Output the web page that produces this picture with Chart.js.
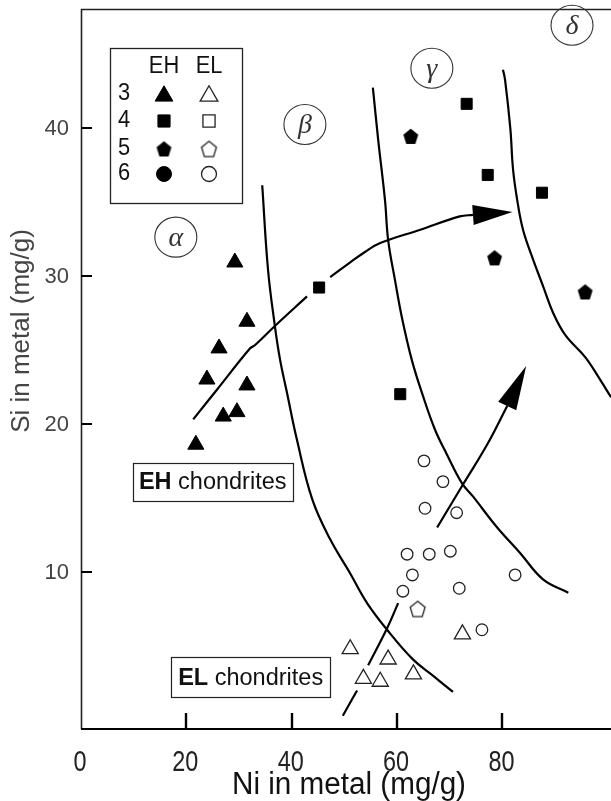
<!DOCTYPE html>
<html>
<head>
<meta charset="utf-8">
<title>Si vs Ni in metal of enstatite chondrites</title>
<script src="https://cdn.jsdelivr.net/npm/chart.js@4.4.1/dist/chart.umd.min.js"></script>
<style>
  html, body { margin: 0; padding: 0; background: #fff; overflow: hidden; }
  #wrap { width: 611px; height: 801px; }
</style>
</head>
<body>
<div id="wrap"><canvas id="chondrite-chart" width="611" height="801"></canvas></div>
<script>
// Ni (x) and Si (y) in metal, mg/g. EH = filled symbols, EL = open symbols.
const eh3 = [[21.8,18.6],[23.9,23.0],[26.2,25.1],[27.0,20.5],[29.6,20.8],[29.2,30.9],[31.5,26.9],[31.5,22.6]];
const eh4 = [[45.2,29.2],[60.6,22.0],[73.2,41.6],[77.2,36.8],[87.5,35.6]];
const eh5 = [[62.6,39.4],[78.5,31.2],[95.7,28.9]];
const eh6 = [];
const el3 = [[51.1,4.8],[58.3,4.1],[53.6,2.8],[56.8,2.6],[63.1,3.1],[72.4,5.8]];
const el4 = [];
const el5 = [[63.9,7.5]];
const el6 = [[65.1,17.5],[68.7,16.1],[65.3,14.3],[71.3,14.0],[61.9,11.2],[66.1,11.2],[70.1,11.4],
             [62.9,9.8],[61.1,8.7],[71.8,8.9],[82.4,9.8],[76.1,6.1]];

// metamorphic zone boundaries
const bound1 = [[34.4,36.1],[35.5,30.4],[36.8,26.6],[37.8,24.3],[39.1,22.1],[41.0,18.9],[43.9,14.9],
                [47.3,12.2],[51.1,9.9],[54.3,7.9],[58.1,6.1],[63.0,4.1],[66.8,3.0],[70.6,1.9]];
const bound2 = [[55.4,42.7],[56.4,39.2],[57.7,35.1],[58.3,32.4],[59.6,29.7],[60.9,27.2],[62.8,24.3],
                [64.8,22.0],[67.2,19.6],[69.5,17.9],[72.3,16.0],[74.4,15.1],[79.0,13.0],[83.3,11.3],
                [87.7,9.5],[92.5,8.6]];
const bound3 = [[80.1,43.9],[80.5,43.2],[81.5,39.9],[82.0,37.2],[82.8,35.1],[83.9,33.1],[85.8,31.1],
                [87.7,29.3],[89.6,27.5],[91.9,26.0],[95.7,24.5],[98.5,23.0],[100.6,21.8]];

// metamorphic trend arrows (segments broken around symbols)
const ehTrendA = [[21.3,20.3],[25.8,22.3],[32.1,25.1],[33.0,25.3],[36.8,26.6],[42.9,28.6]];
const ehTrendB = [[47.3,29.9],[51.1,30.9],[53.9,31.6],[56.8,32.2],[64.4,33.1],[71.9,34.0],[74.4,34.1]];
const ehTrendTip = [81.9,34.3];
const elTrendA = [[49.7,0.3],[52.4,2.0]];
const elTrendB = [[54.5,3.7],[58.1,6.2],[60.2,7.9]];
const elTrendC = [[67.6,13.0],[72.5,15.9],[77.1,18.6],[80.9,21.2]];
const elTrendTip = [84.5,23.9];

// zone letters
const zoneNames = ['α', 'β', 'γ', 'δ'];
const zonePos = [[18.0,32.6],[42.5,40.2],[66.6,44.0],[93.2,46.9]];

const xTicks = [0, 20, 40, 60, 80];
const yTicks = [10, 20, 30, 40];
const grades = ['3', '4', '5', '6'];
const groups = ['EH', 'EL'];

const SANS = '"Liberation Sans", Arial, Helvetica, sans-serif';

const pts = arr => arr.map(p => ({ x: p[0], y: p[1] }));

// text squeezed horizontally, for the condensed face of the axis lettering
function squeezed(ctx, text, x, y, sx) {
  ctx.save();
  ctx.translate(x, y);
  ctx.scale(sx, 1);
  ctx.fillText(text, 0, 0);
  ctx.restore();
}

// Chart.js has no pentagon, so build one on a small canvas
function pentagon(r, filled) {
  const s = Math.ceil(r * 2.4 + 4);
  const c = document.createElement('canvas');
  c.width = s; c.height = s;
  const g = c.getContext('2d');
  g.beginPath();
  for (let i = 0; i < 5; i++) {
    const a = -Math.PI / 2 + i * 2 * Math.PI / 5;
    const px = s / 2 + r * Math.cos(a);
    const py = s / 2 + 0.1 * r + r * 1.08 * Math.sin(a);
    i ? g.lineTo(px, py) : g.moveTo(px, py);
  }
  g.closePath();
  if (filled) {
    g.fillStyle = '#000';
    g.fill();
  } else {
    g.fillStyle = '#fff';
    g.fill();
    g.lineWidth = 1.3;
    g.strokeStyle = '#222';
    g.stroke();
  }
  return c;
}

const pentaFilled = pentagon(7.8, true);
const pentaOpen = pentagon(7.8, false);

const filledStyle = { backgroundColor: '#000', borderColor: '#000', borderWidth: 1 };
const openStyle = { backgroundColor: '#fff', borderColor: '#222', borderWidth: 1.3 };

// symbol for each grade, [EH, EL]
const symbols = [
  [{ pointStyle: 'triangle', radius: 9.3, ...filledStyle }, { pointStyle: 'triangle', radius: 9.3, ...openStyle }],
  [{ pointStyle: 'rect', radius: 7.8, ...filledStyle }, { pointStyle: 'rect', radius: 7.8, ...openStyle }],
  [{ pointStyle: pentaFilled, radius: 8, ...filledStyle }, { pointStyle: pentaOpen, radius: 8, ...openStyle }],
  [{ pointStyle: 'circle', radius: 7, ...filledStyle }, { pointStyle: 'circle', radius: 5.8, ...openStyle }]
];
const groupData = [[eh3, el3], [eh4, el4], [eh5, el5], [eh6, el6]];

const markerSets = [];
grades.forEach((gr, i) => {
  groups.forEach((grp, j) => {
    const s = symbols[i][j];
    markerSets.push({
      label: grp + gr,
      data: pts(groupData[i][j]),
      pointStyle: s.pointStyle,
      pointRadius: s.radius,
      pointBackgroundColor: s.backgroundColor,
      pointBorderColor: s.borderColor,
      pointBorderWidth: s.borderWidth,
      showLine: false,
      order: 0
    });
  });
});

const curve = (label, arr) => ({
  label,
  data: pts(arr),
  showLine: true,
  borderColor: '#000',
  borderWidth: 2.2,
  pointRadius: 0,
  tension: 0.4,
  fill: false,
  order: 1
});

const lineSets = [
  curve('boundary αβ', bound1),
  curve('boundary βγ', bound2),
  curve('boundary γδ', bound3),
  curve('EH trend', ehTrendA),
  curve('EH trend', ehTrendB),
  curve('EL trend', elTrendA),
  curve('EL trend', elTrendB),
  curve('EL trend', elTrendC)
];

function arrowHead(ctx, bx, by, tx, ty, half) {
  const dx = tx - bx, dy = ty - by;
  const len = Math.hypot(dx, dy);
  const nx = -dy / len, ny = dx / len;
  ctx.beginPath();
  ctx.moveTo(tx, ty);
  ctx.lineTo(bx + nx * half, by + ny * half);
  ctx.lineTo(bx - nx * half, by - ny * half);
  ctx.closePath();
  ctx.fill();
}

function boxedLabel(ctx, cx, cy, bold, rest, size, w, h) {
  ctx.font = 'bold ' + size + 'px ' + SANS;
  const wb = ctx.measureText(bold).width;
  ctx.font = size + 'px ' + SANS;
  const wr = ctx.measureText(rest).width;
  ctx.lineWidth = 1.2;
  ctx.strokeStyle = '#222';
  ctx.strokeRect(Math.round(cx - w / 2) + 0.5, Math.round(cy - h / 2) + 0.5, w, h);
  let x0 = cx - (wb + wr) / 2;
  ctx.fillStyle = '#111';
  ctx.textBaseline = 'middle';
  ctx.textAlign = 'left';
  ctx.font = 'bold ' + size + 'px ' + SANS;
  ctx.fillText(bold, x0, cy + 1);
  ctx.font = size + 'px ' + SANS;
  ctx.fillText(rest, x0 + wb, cy + 1);
}

// frame, inward ticks, tick labels and axis titles
const axesPlugin = {
  id: 'axesPlugin',
  beforeDatasetsDraw(chart) {
    const { ctx, chartArea: a, scales: { x, y } } = chart;
    ctx.save();
    ctx.strokeStyle = '#222';
    ctx.lineWidth = 1.6;
    ctx.beginPath();
    ctx.moveTo(a.right, a.top + 0.5);
    ctx.lineTo(a.left + 0.5, a.top + 0.5);
    ctx.lineTo(a.left + 0.5, a.bottom);
    ctx.stroke();
    ctx.strokeStyle = '#000';
    ctx.lineWidth = 2;
    ctx.beginPath();
    ctx.moveTo(a.left, a.bottom);
    ctx.lineTo(a.right, a.bottom);
    ctx.stroke();

    ctx.lineWidth = 2.4;
    xTicks.forEach(v => {
      if (v === 0) return;
      const px = Math.round(x.getPixelForValue(v));
      ctx.beginPath();
      ctx.moveTo(px, a.bottom);
      ctx.lineTo(px, a.bottom - 16);
      ctx.stroke();
    });
    ctx.lineWidth = 2;
    yTicks.forEach(v => {
      const py = Math.round(y.getPixelForValue(v));
      ctx.beginPath();
      ctx.moveTo(a.left, py);
      ctx.lineTo(a.left + 11, py);
      ctx.stroke();
    });

    ctx.fillStyle = '#222';
    ctx.font = '30px ' + SANS;
    ctx.textAlign = 'center';
    ctx.textBaseline = 'top';
    xTicks.forEach(v => squeezed(ctx, String(v), x.getPixelForValue(v) - 1, a.bottom + 19, 0.78));

    ctx.fillStyle = '#444';
    ctx.font = '22px ' + SANS;
    ctx.textAlign = 'right';
    ctx.textBaseline = 'middle';
    yTicks.forEach(v => ctx.fillText(String(v), a.left - 12, y.getPixelForValue(v) + 1));

    ctx.fillStyle = '#111';
    ctx.font = '31px ' + SANS;
    ctx.textAlign = 'center';
    ctx.textBaseline = 'middle';
    const title = 'Ni in metal (mg/g)';
    squeezed(ctx, title, 349, 785, 234 / ctx.measureText(title).width);

    ctx.save();
    ctx.translate(22, 331);
    ctx.rotate(-Math.PI / 2);
    ctx.fillStyle = '#444';
    ctx.font = '26px ' + SANS;
    ctx.fillText('Si in metal (mg/g)', 0, 0);
    ctx.restore();
    ctx.restore();
  },
  afterDatasetsDraw(chart) {
    const { ctx, scales: { x, y } } = chart;
    ctx.save();
    ctx.fillStyle = '#000';
    arrowHead(ctx, x.getPixelForValue(ehTrendB[ehTrendB.length - 1][0]), y.getPixelForValue(ehTrendB[ehTrendB.length - 1][1]),
              x.getPixelForValue(ehTrendTip[0]), y.getPixelForValue(ehTrendTip[1]), 10);
    arrowHead(ctx, x.getPixelForValue(elTrendC[elTrendC.length - 1][0]), y.getPixelForValue(elTrendC[elTrendC.length - 1][1]),
              x.getPixelForValue(elTrendTip[0]), y.getPixelForValue(elTrendTip[1]), 10);

    // zone letters in ovals
    zoneNames.forEach((name, i) => {
      const cx = x.getPixelForValue(zonePos[i][0]);
      const cy = y.getPixelForValue(zonePos[i][1]);
      ctx.beginPath();
      ctx.ellipse(cx, cy, 21, 20, 0, 0, Math.PI * 2);
      ctx.lineWidth = 1.1;
      ctx.strokeStyle = '#333';
      ctx.stroke();
      ctx.fillStyle = '#333';
      ctx.font = 'italic 28px "Liberation Serif", "DejaVu Serif", serif';
      ctx.textAlign = 'center';
      ctx.textBaseline = 'middle';
      ctx.fillText(name, cx, cy + 1);
    });

    boxedLabel(ctx, x.getPixelForValue(25.0), y.getPixelForValue(16.1), 'EH', ' chondrites', 23.5, 160, 38);
    boxedLabel(ctx, x.getPixelForValue(32.2), y.getPixelForValue(2.9), 'EL', ' chondrites', 23.5, 159, 40);

    // symbol key
    ctx.lineWidth = 1.3;
    ctx.strokeStyle = '#222';
    ctx.strokeRect(110.5, 48.5, 132, 155);
    ctx.fillStyle = '#111';
    ctx.font = '23px ' + SANS;
    ctx.textAlign = 'center';
    ctx.textBaseline = 'middle';
    const colX = [164, 209];
    const rowY = [94, 121, 149, 174];
    groups.forEach((g, j) => squeezed(ctx, g, colX[j], 67, 0.95));
    grades.forEach((gr, i) => {
      ctx.fillStyle = '#111';
      ctx.font = '23px ' + SANS;
      squeezed(ctx, gr, 124, rowY[i], 0.95);
      groups.forEach((g, j) => {
        const s = symbols[i][j];
        ctx.fillStyle = s.backgroundColor;
        ctx.strokeStyle = s.borderColor;
        ctx.lineWidth = s.borderWidth;
        const r = typeof s.pointStyle === 'string' ? s.radius * 1.1 : s.radius;
        Chart.helpers.drawPoint(ctx, { pointStyle: s.pointStyle, radius: i === 3 ? 7.5 : r, rotation: 0, borderWidth: s.borderWidth },
                                colX[j], rowY[i] + (i === 0 ? 2 : 0));
      });
    });
    ctx.restore();
  }
};

new Chart(document.getElementById('chondrite-chart'), {
  type: 'scatter',
  data: { datasets: [...markerSets, ...lineSets] },
  options: {
    responsive: false,
    animation: false,
    events: [],
    layout: { autoPadding: false, padding: { left: 81, top: 9, right: 0, bottom: 72 } },
    scales: {
      x: { type: 'linear', min: 0, max: 100.6, display: false },
      y: { type: 'linear', min: -0.6, max: 48, display: false }
    },
    plugins: {
      legend: { display: false },
      tooltip: { enabled: false }
    }
  },
  plugins: [axesPlugin]
});
</script>
</body>
</html>
